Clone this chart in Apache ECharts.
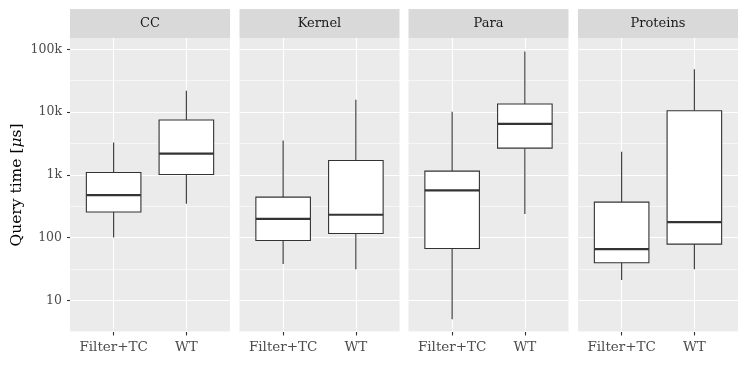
<!DOCTYPE html>
<html><head><meta charset="utf-8">
<script src="https://cdn.jsdelivr.net/npm/echarts@6/dist/echarts.min.js"></script>
<style>html,body{margin:0;padding:0;background:#fff}#c{width:747px;height:386px}</style>
</head><body><div id="c"></div>
<script>
const categories = ['Filter+TC', 'WT'];
const facets = ['CC', 'Kernel', 'Para', 'Proteins'];
const yTickValues = [10, 100, 1000, 10000, 100000];
const yTickLabels = ['10', '100', '1k', '10k', '100k'];
const yMinorValues = [Math.sqrt(10), Math.sqrt(1000), Math.sqrt(1e5), Math.sqrt(1e7), Math.sqrt(1e9)];
// [min, Q1, median, Q3, max] in microseconds
const ccFilterTC = [100, 255, 474, 1088, 3270];
const ccWT = [345, 1010, 2180, 7450, 21800];
const kernelFilterTC = [37.8, 89.8, 199, 441, 3520];
const kernelWT = [31.4, 116, 231, 1690, 15700];
const paraFilterTC = [5.0, 67, 563, 1145, 10100];
const paraWT = [237, 2660, 6500, 13400, 92300];
const proteinsFilterTC = [21, 39.6, 65.5, 367, 2330];
const proteinsWT = [31.4, 78.7, 176, 10500, 48300];

const facetData = [
  [ccFilterTC, ccWT],
  [kernelFilterTC, kernelWT],
  [paraFilterTC, paraWT],
  [proteinsFilterTC, proteinsWT]
];

const FONT = 'DejaVu Serif';
const yMin = 0.495, yMax = 5.18;
const lefts = [70, 239.5, 408.5, 578];
const gw = 160, gtop = 38, gh = 294;

function renderItem(params, api) {
  const x = api.value(0);
  const pMin = api.coord([x, api.value(1)]);
  const pQ1 = api.coord([x, api.value(2)]);
  const pMed = api.coord([x, api.value(3)]);
  const pQ3 = api.coord([x, api.value(4)]);
  const pMax = api.coord([x, api.value(5)]);
  const w = api.size([0.75, 0])[0];
  const cx = pMin[0];
  const ls = {stroke: '#333333', lineWidth: 1.1};
  return {type: 'group', children: [
    {type: 'line', shape: {x1: cx, y1: pQ3[1], x2: cx, y2: pMax[1]}, style: ls},
    {type: 'line', shape: {x1: cx, y1: pQ1[1], x2: cx, y2: pMin[1]}, style: ls},
    {type: 'rect', shape: {x: cx - w / 2, y: pQ3[1], width: w, height: pQ1[1] - pQ3[1]}, style: {fill: '#ffffff', stroke: '#333333', lineWidth: 1.1}},
    {type: 'line', shape: {x1: cx - w / 2, y1: pMed[1], x2: cx + w / 2, y2: pMed[1]}, style: {stroke: '#333333', lineWidth: 2.2}}
  ]};
}

const grid = [], xAxis = [], yAxis = [], series = [], graphic = [];
facets.forEach((f, i) => {
  grid.push({left: lefts[i], top: gtop, width: gw, height: gh, show: true, backgroundColor: '#ebebeb', borderWidth: 0});
  xAxis.push({
    type: 'value', gridIndex: i, min: 0.4, max: 2.6,
    axisLine: {show: false},
    axisTick: {show: true, length: 3.5, lineStyle: {color: '#333333', width: 1.1}, customValues: [1, 2]},
    axisLabel: {show: true, customValues: [1, 2], formatter: v => categories[Math.round(v) - 1], color: '#4d4d4d', fontFamily: FONT, fontSize: 13.5, margin: 8},
    splitLine: {show: true, lineStyle: {color: '#ffffff', width: 1.1}}
  });
  yAxis.push({
    type: 'value', gridIndex: i, min: yMin, max: yMax,
    axisLine: {show: false},
    axisTick: {show: i === 0, length: 3, lineStyle: {color: '#333333', width: 1.1}, customValues: yTickValues.map(Math.log10)},
    axisLabel: {show: i === 0, customValues: yTickValues.map(Math.log10),
      formatter: v => yTickLabels[yTickValues.findIndex(t => Math.abs(Math.log10(t) - v) < 1e-6)],
      color: '#4d4d4d', fontFamily: FONT, fontSize: 12.5, margin: 8},
    splitLine: {show: true, lineStyle: {color: '#ffffff', width: 1.1}},
    name: i === 0 ? 'Query time [{i|μ}s]' : '',
    nameLocation: 'middle', nameGap: 45, nameRotate: 90,
    nameTextStyle: {color: '#000000', fontFamily: FONT, fontSize: 15.5, rich: {i: {fontStyle: 'italic', fontFamily: FONT, fontSize: 15.5, color: '#000'}}},
    z: 1
  });
  yAxis.push({
    type: 'value', gridIndex: i, min: yMin, max: yMax, position: 'left',
    axisLine: {show: false},
    axisTick: {show: false, customValues: yMinorValues.map(Math.log10)},
    axisLabel: {show: false, customValues: yMinorValues.map(Math.log10)},
    splitLine: {show: true, lineStyle: {color: '#ffffff', width: 0.55}},
    z: 0
  });
  const data = facetData[i].map((s, k) => [k + 1].concat(s.map(Math.log10)));
  series.push({
    type: 'custom', xAxisIndex: i, yAxisIndex: 2 * i,
    renderItem: renderItem,
    encode: {x: 0, y: [1, 2, 3, 4, 5]},
    data: data, z: 5
  });
  graphic.push({type: 'rect', left: lefts[i], top: 9, shape: {width: gw, height: 29}, style: {fill: '#d9d9d9'}});
  graphic.push({type: 'text', x: lefts[i] + gw / 2, y: 23.5, style: {text: f, fill: '#1a1a1a', font: '13px "' + FONT + '"', align: 'center', verticalAlign: 'middle'}});
});

const chart = echarts.init(document.getElementById('c'), null, {renderer: 'canvas'});
chart.setOption({animation: false, backgroundColor: '#ffffff', grid, xAxis, yAxis, series, graphic});
</script></body></html>
